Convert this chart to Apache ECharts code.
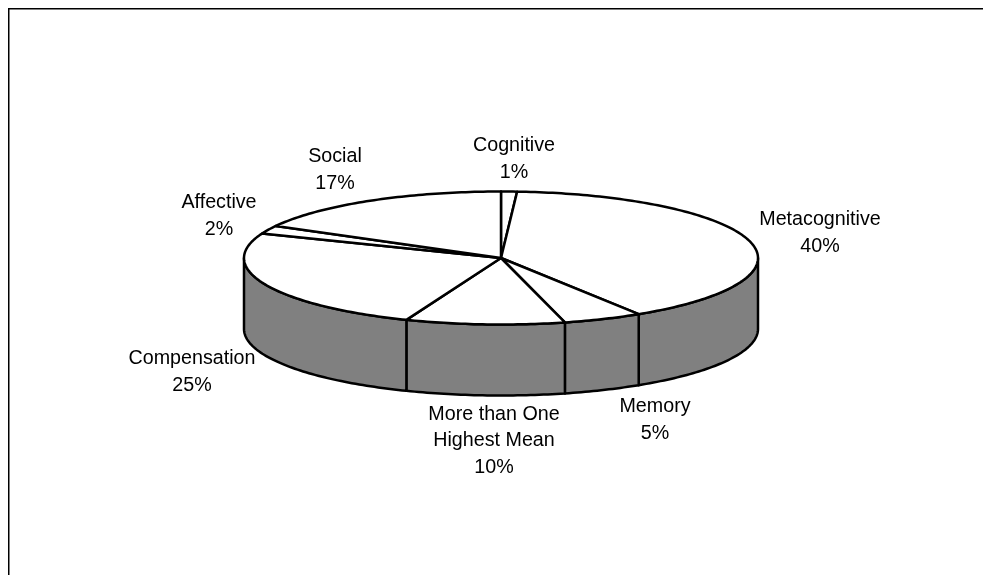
<!DOCTYPE html>
<html>
<head>
<meta charset="utf-8">
<style>html,body{margin:0;padding:0;background:#fff}#chart{width:983px;height:575px}</style>
<script src="https://cdn.jsdelivr.net/npm/echarts@6/dist/echarts.min.js"></script>
</head>
<body>
<div id="chart"></div>
<script>
// Share of learners by highest-mean strategy group
const categories = ['Cognitive', 'Metacognitive', 'Memory', 'More than One\nHighest Mean', 'Compensation', 'Affective', 'Social'];
const shares = [1, 40, 5, 10, 25, 2, 17];

// Projection of the tilted disc
const disc = { cx: 501, cy: 258, rx: 257, ry: 66.5, depth: 71 };
const lineWidth = 2.5;
const fontSize = 19.7;
const lineHeight = 26.6;
// Label centres, in slice order
const labelCenters = [[514, 159], [820, 233], [655, 420], [494, 441], [192, 372], [219, 216], [335, 170]];

const total = shares.reduce((a, b) => a + b, 0);
const toAngle = v => v / total * Math.PI * 2;
const rimPoint = (a, drop) => [disc.cx + disc.rx * Math.sin(a), disc.cy - disc.ry * Math.cos(a) + (drop || 0)];

function arcPoints(a0, a1, drop) {
  const pts = [];
  const steps = Math.max(2, Math.ceil((a1 - a0) / (Math.PI / 180)));
  for (let i = 0; i <= steps; i++) pts.push(rimPoint(a0 + (a1 - a0) * i / steps, drop));
  return pts;
}

const strokeStyle = { stroke: '#000', lineWidth: lineWidth, lineJoin: 'round' };

function renderSlice(params, api) {
  const i = params.dataIndex;
  const start = shares.slice(0, i).reduce((a, b) => a + b, 0);
  const a0 = toAngle(start);
  const a1 = toAngle(start + api.value(0));
  const children = [];

  // Outer wall is visible only on the front half of the rim
  const w0 = Math.max(a0, Math.PI / 2);
  const w1 = Math.min(a1, Math.PI * 1.5);
  if (w1 > w0) {
    const wall = arcPoints(w0, w1, 0).concat(arcPoints(w0, w1, disc.depth).reverse());
    children.push({ type: 'polygon', shape: { points: wall }, style: Object.assign({ fill: '#808080' }, strokeStyle), z2: 1 });
  }

  // Top face
  const top = [[disc.cx, disc.cy]].concat(arcPoints(a0, a1, 0));
  children.push({ type: 'polygon', shape: { points: top }, style: Object.assign({ fill: '#fff' }, strokeStyle), z2: 2 });

  children.push({
    type: 'text',
    z2: 3,
    style: {
      text: categories[i] + '\n' + api.value(0) + '%',
      x: labelCenters[i][0],
      y: labelCenters[i][1],
      align: 'center',
      verticalAlign: 'middle',
      fill: '#000',
      font: fontSize + 'px "Liberation Sans", Arial, sans-serif',
      lineHeight: lineHeight
    }
  });
  return { type: 'group', children: children };
}

const chart = echarts.init(document.getElementById('chart'), null, { renderer: 'canvas' });
chart.setOption({
  animation: false,
  backgroundColor: '#fff',
  // Outer frame runs off the right and bottom of the page
  graphic: [{
    type: 'rect',
    shape: { x: 8.75, y: 8.75, width: 1000, height: 600 },
    style: { fill: '#fff', stroke: '#000', lineWidth: 1.5 },
    z: -1
  }],
  series: [{
    type: 'custom',
    coordinateSystem: 'none',
    renderItem: renderSlice,
    data: categories.map((name, i) => ({ name: name, value: [shares[i]] }))
  }]
});
</script>
</body>
</html>
